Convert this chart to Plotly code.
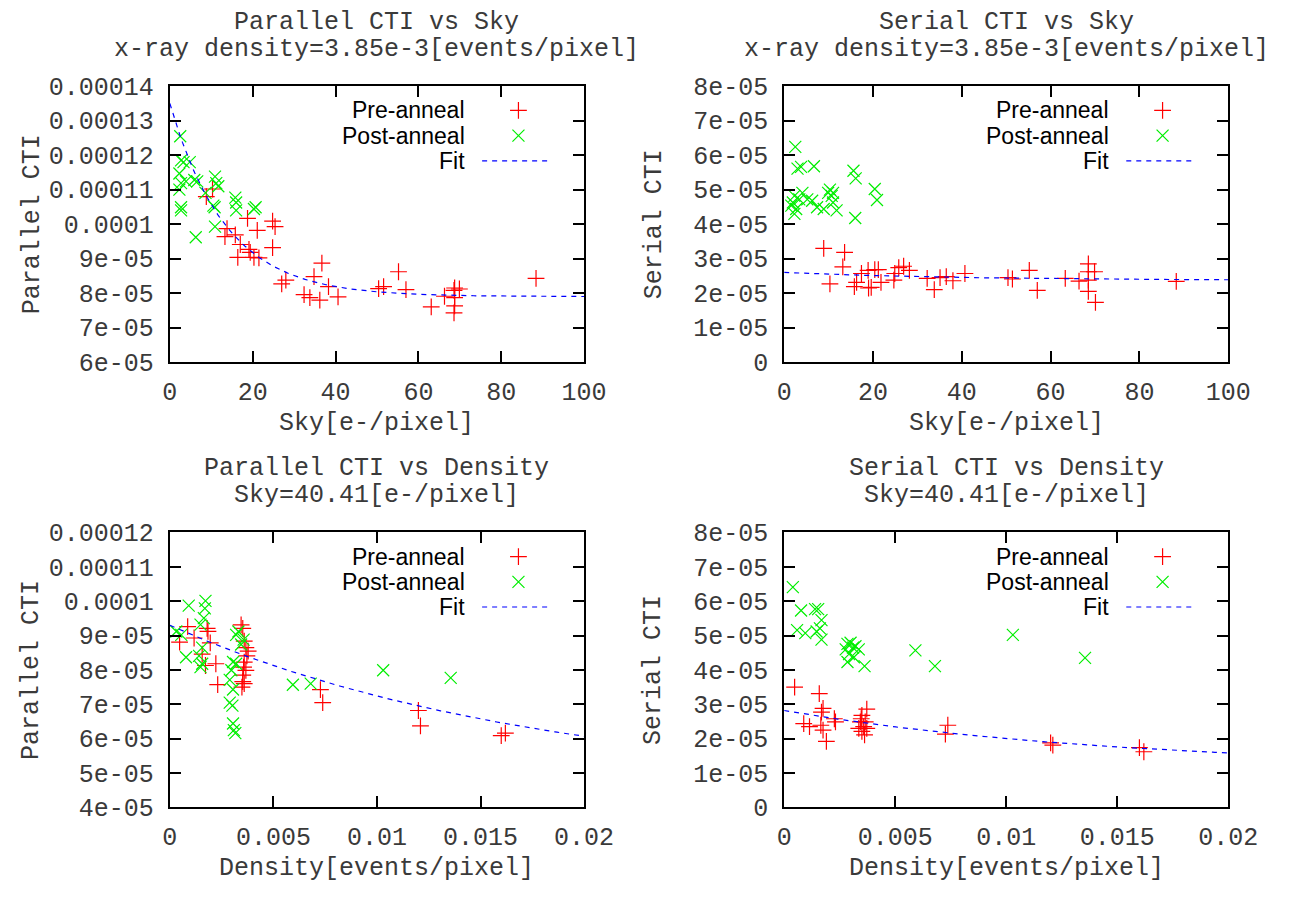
import numpy as np
import plotly.graph_objects as go

W, H = 1309, 906
E5 = 1e-5

# ---------------- data (CTI values in units of 1e-5) ----------------
# Panel 1: Parallel CTI vs Sky
p1_pre_sky = [8.8, 10.3, 13.8, 13.3, 15.8, 17.0, 16.4, 18.75, 19.1, 19.4, 20.3, 21.1, 21.5, 24.8, 25.4, 24.8,
              28.0, 27.0, 36.7, 34.8, 38.3, 32.4, 33.8, 36.2, 40.6, 50.4, 51.6, 55.2, 57.0, 63.1, 66.3, 68.75,
              69.9, 68.6, 68.75, 68.75, 68.6, 88.4]
p1_pre_cti = [10.80, 11.02, 9.87, 9.64, 9.69, 9.41, 9.04, 10.17, 9.27, 9.18, 9.04, 9.82, 9.02, 10.09, 9.93, 9.32,
              8.38, 8.27, 8.87, 8.48, 8.19, 7.96, 7.87, 7.80, 7.89, 8.13, 8.19, 8.62, 8.10, 7.60, 7.91, 8.15,
              8.12, 8.08, 7.87, 7.63, 7.43, 8.43]
p1_post_sky = [2.5, 2.7, 3.3, 4.8, 2.3, 2.7, 2.3, 3.9, 5.9, 6.6, 2.7, 2.7, 6.25, 10.9, 11.2, 11.7, 10.5, 10.8,
               10.9, 8.6, 15.8, 16.0, 16.0, 20.7, 20.3]
p1_post_cti = [12.55, 11.85, 11.80, 11.80, 11.47, 11.19, 11.00, 11.24, 11.28, 11.24, 10.49, 10.40, 9.62, 11.38,
               11.19, 11.10, 10.54, 10.49, 9.93, 10.91, 10.77, 10.63, 10.40, 10.49, 10.44]

# Panel 2: Serial CTI vs Sky
p2_pre_sky = [8.9, 13.6, 13.2, 10.3, 15.8, 16.3, 17.4, 19.0, 19.6, 18.9, 20.4, 21.2, 21.8, 24.9, 24.7, 25.8,
              26.9, 28.2, 32.2, 33.8, 35.1, 36.5, 38.0, 40.7, 50.4, 51.4, 55.2, 57.0, 63.3, 66.4, 68.5, 68.5,
              69.9, 68.5, 68.5, 70.1, 88.3]
p2_pre_cti = [3.30, 3.18, 2.76, 2.27, 2.19, 2.31, 2.57, 2.15, 2.17, 2.66, 2.68, 2.68, 2.31, 2.57, 2.38, 2.74,
              2.78, 2.66, 2.43, 2.10, 2.45, 2.48, 2.36, 2.57, 2.45, 2.41, 2.66, 2.08, 2.43, 2.35, 2.85, 2.62,
              2.62, 2.38, 2.05, 1.73, 2.34]
p2_post_sky = [2.5, 3.0, 3.8, 6.7, 15.6, 16.1, 20.4, 20.9, 16.0, 2.3, 1.95, 2.7, 2.3, 3.4, 4.1, 5.2, 6.3, 7.4,
               8.9, 10.3, 11.0, 10.7, 11.0, 11.8, 1.6, 9.9]
p2_post_cti = [6.24, 5.61, 5.66, 5.68, 5.55, 5.33, 5.02, 4.70, 4.18, 4.82, 4.63, 4.44, 4.30, 4.72, 4.91, 4.72,
               4.68, 4.49, 4.44, 5.00, 4.91, 4.82, 4.63, 4.40, 4.54, 4.91]

# Panel 3: Parallel CTI vs Density
p3_pre_den = [0.00047, 0.00086, 0.00117, 0.00156, 0.00172, 0.0018, 0.00184, 0.00195, 0.00222, 0.00231,
              0.00344, 0.00352, 0.00359, 0.00367, 0.00378, 0.00372, 0.00359, 0.00356, 0.00367, 0.00352,
              0.00352, 0.00359, 0.00348, 0.00727, 0.00738, 0.0120, 0.0121, 0.0160, 0.0162]
p3_pre_cti = [8.81, 9.26, 8.93, 8.46, 8.13, 9.21, 9.12, 8.79, 8.18, 7.57, 9.31, 9.21, 8.84, 8.65, 8.55, 8.41,
              8.23, 8.08, 7.99, 7.85, 7.66, 7.60, 7.50, 7.43, 7.05, 6.82, 6.37, 6.09, 6.16]
p3_post_den = [0.00091, 0.00172, 0.00169, 0.00164, 0.00148, 0.00031, 0.00055, 0.00078, 0.00141, 0.00156,
               0.00156, 0.00148, 0.0032, 0.00331, 0.00356, 0.00305, 0.00297, 0.00289, 0.00305, 0.00289,
               0.00302, 0.00305, 0.00309, 0.00316, 0.00594, 0.0068, 0.0103, 0.01356, 0.0032, 0.00344]
p3_post_cti = [9.87, 10.01, 9.79, 9.51, 9.32, 9.12, 9.02, 8.37, 8.41, 8.65, 8.18, 8.08, 9.02, 9.12, 8.88, 8.23,
               7.99, 7.71, 7.43, 7.05, 6.96, 6.44, 6.25, 6.16, 7.57, 7.60, 7.99, 7.77, 8.18, 8.74]

# Panel 4: Serial CTI vs Density
p4_pre_den = [0.00047, 0.00158, 0.00175, 0.00168, 0.00088, 0.00114, 0.00165, 0.00175, 0.0019, 0.00226,
              0.00231, 0.0035, 0.00372, 0.00343, 0.00365, 0.00358, 0.0035, 0.00362, 0.00347, 0.00737,
              0.00726, 0.0120, 0.0121, 0.0160, 0.0162, 0.00372, 0.00336]
p4_pre_cti = [3.50, 3.31, 2.88, 2.77, 2.44, 2.35, 2.39, 2.25, 1.92, 2.58, 2.49, 2.68, 2.86, 2.49, 2.49, 2.35,
              2.21, 2.11, 2.58, 2.39, 2.13, 1.88, 1.81, 1.74, 1.62, 2.30, 2.30]
p4_post_den = [0.00039, 0.00076, 0.00139, 0.00153, 0.00168, 0.00058, 0.00095, 0.00146, 0.00161, 0.00168,
               0.00285, 0.00299, 0.0031, 0.00336, 0.00292, 0.00314, 0.00285, 0.00362, 0.00277, 0.00321,
               0.00591, 0.00679, 0.0103, 0.01355]
p4_post_cti = [6.41, 5.73, 5.77, 5.77, 5.45, 5.16, 5.07, 5.12, 5.21, 4.88, 4.76, 4.79, 4.65, 4.60, 4.46, 4.37,
               4.23, 4.11, 4.60, 4.69, 4.57, 4.11, 5.02, 4.35]

# Fit parameters: CTI = a + b*exp(-x/c)  (CTI in 1e-5)
fit_p1 = (7.9, 5.6, 13.5)
fit_p2 = (2.37, 0.23, 40.0)
fit_p3 = (4.53, 4.77, 0.0177)
fit_p4 = (1.15, 1.67, 0.01486)

# Axis ticks
sky_ticks = [0, 20, 40, 60, 80, 100]
sky_ticktext = ["0", "20", "40", "60", "80", "100"]
den_ticks = [0, 0.005, 0.01, 0.015, 0.02]
den_ticktext = ["0", "0.005", "0.01", "0.015", "0.02"]
p1_yticks = [6, 7, 8, 9, 10, 11, 12, 13, 14]
p1_yticktext = ["6e-05", "7e-05", "8e-05", "9e-05", "0.0001", "0.00011", "0.00012", "0.00013", "0.00014"]
p3_yticks = [4, 5, 6, 7, 8, 9, 10, 11, 12]
p3_yticktext = ["4e-05", "5e-05", "6e-05", "7e-05", "8e-05", "9e-05", "0.0001", "0.00011", "0.00012"]
ser_yticks = [0, 1, 2, 3, 4, 5, 6, 7, 8]
ser_yticktext = ["0", "1e-05", "2e-05", "3e-05", "4e-05", "5e-05", "6e-05", "7e-05", "8e-05"]

titles = [("Parallel CTI vs Sky", "x-ray density=3.85e-3[events/pixel]"),
          ("Serial CTI vs Sky", "x-ray density=3.85e-3[events/pixel]"),
          ("Parallel CTI vs Density", "Sky=40.41[e-/pixel]"),
          ("Serial CTI vs Density", "Sky=40.41[e-/pixel]")]
xlabels = ["Sky[e-/pixel]", "Sky[e-/pixel]", "Density[events/pixel]", "Density[events/pixel]"]
ylabels = ["Parallel CTI", "Serial CTI", "Parallel CTI", "Serial CTI"]
legend_names = ["Pre-anneal", "Post-anneal", "Fit"]

# ---------------- layout geometry (pixels) ----------------
boxes = [  # left, right, top, bottom
    (166.7, 593.3, 76.7, 361.7),
    (799.4, 1256.7, 76.7, 361.7),
    (166.7, 593.3, 537.7, 821.7),
    (799.4, 1256.7, 537.7, 821.7),
]

RED = "#ff0000"
GREEN = "#00ee00"
BLUE = "#0000ff"
MONO = "Liberation Mono"
SANS = "Liberation Sans"
TXT = "#3a3a3a"
FS = 25
LFS = 23

fig = go.Figure()

panels = [
    (p1_pre_sky, p1_pre_cti, p1_post_sky, p1_post_cti, fit_p1, (0, 100), (6, 14), sky_ticks, sky_ticktext, p1_yticks, p1_yticktext),
    (p2_pre_sky, p2_pre_cti, p2_post_sky, p2_post_cti, fit_p2, (0, 100), (0, 8), sky_ticks, sky_ticktext, ser_yticks, ser_yticktext),
    (p3_pre_den, p3_pre_cti, p3_post_den, p3_post_cti, fit_p3, (0, 0.02), (4, 12), den_ticks, den_ticktext, p3_yticks, p3_yticktext),
    (p4_pre_den, p4_pre_cti, p4_post_den, p4_post_cti, fit_p4, (0, 0.02), (0, 8), den_ticks, den_ticktext, ser_yticks, ser_yticktext),
]

annotations = []
for i, (prex, prey, postx, posty, fitp, xr, yr, xtv, xtt, ytv, ytt) in enumerate(panels):
    k = i + 1
    xa = "x" if k == 1 else f"x{k}"
    ya = "y" if k == 1 else f"y{k}"
    L, R, T, B = boxes[i]
    yscale = [v * E5 for v in yr]
    fig.add_trace(go.Scatter(x=prex, y=[v * E5 for v in prey], mode="markers", xaxis=xa, yaxis=ya,
                             marker=dict(symbol="cross-thin", size=12, line=dict(color=RED, width=1.2)),
                             showlegend=False, name="Pre-anneal"))
    fig.add_trace(go.Scatter(x=postx, y=[v * E5 for v in posty], mode="markers", xaxis=xa, yaxis=ya,
                             marker=dict(symbol="x-thin", size=12, line=dict(color=GREEN, width=1.2)),
                             showlegend=False, name="Post-anneal"))
    a, b, c = fitp
    fx = np.linspace(xr[0], xr[1], 200)
    fy = (a + b * np.exp(-fx / c)) * E5
    fig.add_trace(go.Scatter(x=fx, y=fy, mode="lines", xaxis=xa, yaxis=ya,
                             line=dict(color=BLUE, width=1.2, dash="5px,5px"), showlegend=False, name="Fit"))

    axis_common = dict(showline=True, linecolor="black", linewidth=2, mirror="allticks", ticks="inside",
                       ticklen=11, tickwidth=2, tickcolor="black", showgrid=False, zeroline=False,
                       tickfont=dict(family=MONO, size=FS, color=TXT), tickmode="array")
    fig.update_layout(**{
        ("xaxis" if k == 1 else f"xaxis{k}"): dict(domain=[L / W, R / W], range=list(xr), anchor=ya,
                                                   tickvals=xtv, ticktext=xtt, ticklabelstandoff=6,
                                                   **axis_common),
        ("yaxis" if k == 1 else f"yaxis{k}"): dict(domain=[1 - B / H, 1 - T / H], range=yscale, anchor=xa,
                                                   tickvals=[v * E5 for v in ytv], ticktext=ytt,
                                                   ticklabelstandoff=9, **axis_common),
    })

    cx = (L + R) / 2
    # titles
    annotations.append(dict(x=cx, y=T - 66, text=titles[i][0]))
    annotations.append(dict(x=cx, y=T - 38, text=titles[i][1]))
    annotations.append(dict(x=cx, y=B + 63, text=xlabels[i]))
    annotations.append(dict(x=L - 142 if i % 2 == 0 else L - 134, y=(T + B) / 2, text=ylabels[i], textangle=-90))

    # legend (drawn manually, gnuplot style: text then key on the right)
    rows = [T + 25, T + 51, T + 77]
    for r, nm in zip(rows, legend_names):
        annotations.append(dict(x=R - 121, y=r, text=nm, xanchor="right",
                                font=dict(family=SANS, size=LFS, color="black")))
    fig.add_trace(go.Scatter(x=[R - 67.6], y=[rows[0]], mode="markers", xaxis="x5", yaxis="y5",
                             marker=dict(symbol="cross-thin", size=12, line=dict(color=RED, width=1.2)),
                             showlegend=False, hoverinfo="skip"))
    fig.add_trace(go.Scatter(x=[R - 67.6], y=[rows[1]], mode="markers", xaxis="x5", yaxis="y5",
                             marker=dict(symbol="x-thin", size=12, line=dict(color=GREEN, width=1.2)),
                             showlegend=False, hoverinfo="skip"))
    fig.add_trace(go.Scatter(x=[R - 105, R - 35.6], y=[rows[2], rows[2]], mode="lines", xaxis="x5", yaxis="y5",
                             line=dict(color=BLUE, width=1.2, dash="5px,5px"),
                             showlegend=False, hoverinfo="skip"))

final_ann = []
for an in annotations:
    d = dict(xref="x5", yref="y5", showarrow=False, font=dict(family=MONO, size=FS, color=TXT),
             xanchor="center", yanchor="middle")
    d.update(an)
    final_ann.append(d)

fig.update_layout(
    xaxis5=dict(domain=[0, 1], range=[0, W], visible=False, anchor="y5", fixedrange=True),
    yaxis5=dict(domain=[0, 1], range=[H, 0], visible=False, anchor="x5", fixedrange=True),
    annotations=final_ann,
    width=W, height=H, autosize=False,
    margin=dict(l=0, r=0, t=0, b=0),
    paper_bgcolor="white", plot_bgcolor="rgba(0,0,0,0)",
    showlegend=False,
)

fig.write_html("out.html", config={"displayModeBar": False},
               post_script="document.body.style.margin='0px';")
